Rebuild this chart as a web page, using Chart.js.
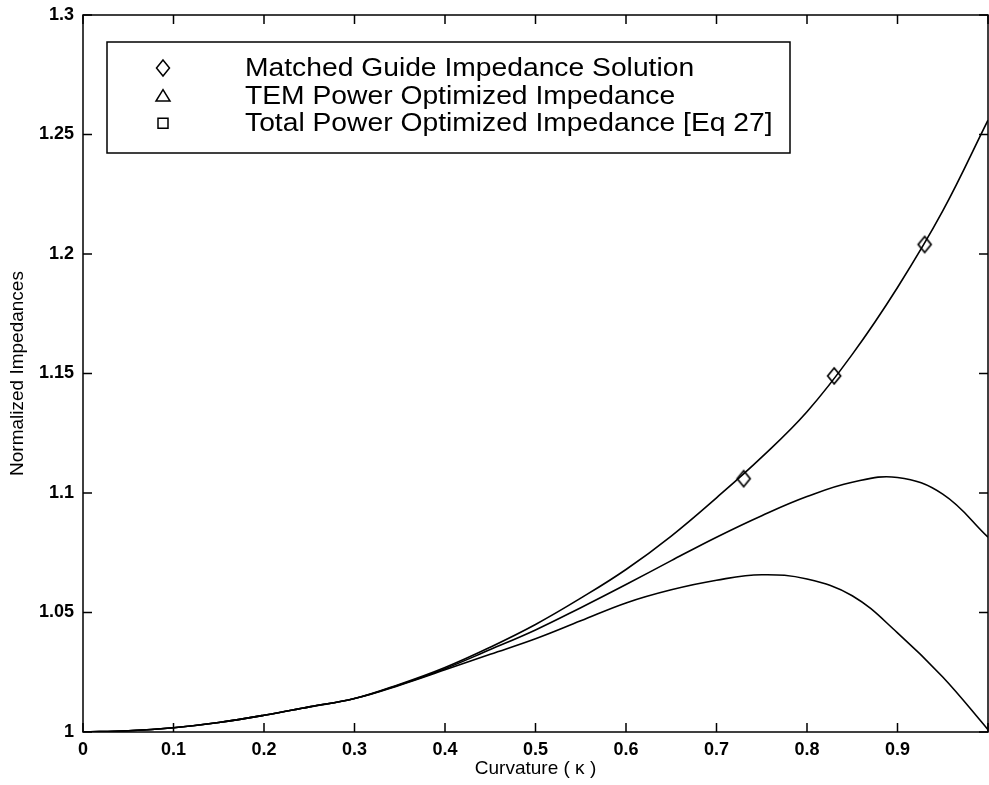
<!DOCTYPE html>
<html>
<head>
<meta charset="utf-8">
<script src="https://cdn.jsdelivr.net/npm/chart.js@4.4.1/dist/chart.umd.min.js"></script>
<style>
  html, body { margin: 0; padding: 0; background: #fff; }
  #wrap { width: 989px; height: 785px; position: relative; }
</style>
</head>
<body>
<div id="wrap"><canvas id="chart"></canvas></div>
<script>
// Curvature samples and the three normalized impedance curves.
const KAPPA = [0, 0.05, 0.1, 0.15, 0.2, 0.25, 0.3, 0.35, 0.4, 0.45, 0.5, 0.55, 0.6, 0.65, 0.7, 0.75, 0.8, 0.85, 0.9, 0.95, 1.0];
const MATCHED = [1.0, 1.0005, 1.0018, 1.0040, 1.0070, 1.0105, 1.0140, 1.0200, 1.0270, 1.0355, 1.045, 1.056, 1.068, 1.082, 1.098, 1.115, 1.134, 1.158, 1.186, 1.218, 1.256];
const TEM_OPT = [1.0, 1.0005, 1.0018, 1.0040, 1.0070, 1.0105, 1.0140, 1.0198, 1.0265, 1.0345, 1.0427, 1.052, 1.0617, 1.0717, 1.0815, 1.0905, 1.0985, 1.1045, 1.1065, 1.0995, 1.0815];
const TOTAL_OPT = [1.0, 1.0005, 1.0018, 1.0040, 1.0070, 1.0105, 1.0140, 1.0196, 1.026, 1.0325, 1.039, 1.0465, 1.054, 1.0595, 1.0635, 1.0658, 1.064, 1.057, 1.0415, 1.023, 1.001];

// Diamond markers on the matched-guide solution.
const MARKER_KAPPA = [0.73, 0.83, 0.93];
const MARKER_MATCHED = [1.106, 1.149, 1.204];

const LEGEND_LABELS = [
  'Matched Guide Impedance Solution',
  'TEM Power Optimized Impedance',
  'Total Power Optimized Impedance [Eq 27]',
];
const LEGEND_MARKERS = ['diamond', 'triangle', 'square'];

const FONT = '"Liberation Sans", Arial, Helvetica, sans-serif';
const TICK_LEN = 9;

const toPoints = (xs, ys) => xs.map((x, i) => ({ x, y: ys[i] }));

function drawMarker(ctx, kind, cx, cy) {
  ctx.beginPath();
  if (kind === 'diamond') {
    ctx.moveTo(cx, cy - 8);
    ctx.lineTo(cx + 6.5, cy);
    ctx.lineTo(cx, cy + 8);
    ctx.lineTo(cx - 6.5, cy);
    ctx.closePath();
  } else if (kind === 'triangle') {
    ctx.moveTo(cx, cy - 6);
    ctx.lineTo(cx + 7, cy + 5.5);
    ctx.lineTo(cx - 7, cy + 5.5);
    ctx.closePath();
  } else {
    ctx.rect(cx - 5, cy - 5, 10, 10);
  }
  ctx.stroke();
}

// Hollow diamond used as the point style of the marker series.
const diamondImg = document.createElement('canvas');
diamondImg.width = 18;
diamondImg.height = 22;
(() => {
  const c = diamondImg.getContext('2d');
  c.strokeStyle = '#000';
  c.lineWidth = 1.7;
  drawMarker(c, 'diamond', 9, 11);
})();

// Box frame with inward ticks on all four sides.
const framePlugin = {
  id: 'frame',
  afterDatasetsDraw(chart) {
    const { ctx, chartArea: a, scales } = chart;
    ctx.save();
    ctx.strokeStyle = '#000';
    ctx.lineWidth = 1.5;
    ctx.strokeRect(a.left, a.top, a.right - a.left, a.bottom - a.top);
    ctx.beginPath();
    scales.x.ticks.forEach((t) => {
      const px = scales.x.getPixelForValue(t.value);
      ctx.moveTo(px, a.bottom); ctx.lineTo(px, a.bottom - TICK_LEN);
      ctx.moveTo(px, a.top); ctx.lineTo(px, a.top + TICK_LEN);
    });
    scales.y.ticks.forEach((t) => {
      const py = scales.y.getPixelForValue(t.value);
      ctx.moveTo(a.left, py); ctx.lineTo(a.left + TICK_LEN, py);
      ctx.moveTo(a.right, py); ctx.lineTo(a.right - TICK_LEN, py);
    });
    ctx.stroke();
    ctx.restore();
  },
};

// MATLAB-style legend box in the upper left.
const legendPlugin = {
  id: 'boxLegend',
  afterDraw(chart) {
    const { ctx } = chart;
    ctx.save();
    ctx.fillStyle = '#fff';
    ctx.strokeStyle = '#000';
    ctx.lineWidth = 1.5;
    ctx.fillRect(107, 42, 683, 111);
    ctx.strokeRect(107, 42, 683, 111);
    LEGEND_LABELS.forEach((label, i) => {
      const base = 76 + i * 27.6;
      drawMarker(ctx, LEGEND_MARKERS[i], 163, base - 8);
      ctx.save();
      ctx.fillStyle = '#000';
      ctx.font = '25px ' + FONT;
      ctx.textBaseline = 'alphabetic';
      ctx.scale(1.13, 1);
      ctx.fillText(label, 245 / 1.13, base);
      ctx.restore();
    });
    ctx.restore();
  },
};

const lineStyle = {
  borderColor: '#000',
  borderWidth: 1.6,
  pointRadius: 0,
  fill: false,
  tension: 0.4,
};

new Chart(document.getElementById('chart'), {
  type: 'line',
  data: {
    datasets: [
      { label: LEGEND_LABELS[0], data: toPoints(KAPPA, MATCHED), ...lineStyle },
      { label: LEGEND_LABELS[1], data: toPoints(KAPPA, TEM_OPT), ...lineStyle },
      { label: LEGEND_LABELS[2], data: toPoints(KAPPA, TOTAL_OPT), ...lineStyle },
      {
        label: 'markers',
        data: toPoints(MARKER_KAPPA, MARKER_MATCHED),
        showLine: false,
        pointStyle: diamondImg,
        pointRadius: 8,
        pointHoverRadius: 8,
      },
    ],
  },
  options: {
    responsive: true,
    maintainAspectRatio: false,
    animation: false,
    events: [],
    layout: { autoPadding: false, padding: { top: 15, right: 1, left: 0, bottom: 0 } },
    plugins: { legend: { display: false }, tooltip: { enabled: false } },
    scales: {
      x: {
        type: 'linear',
        min: 0,
        max: 1,
        grid: { display: false, drawTicks: false },
        border: { display: false },
        ticks: {
          stepSize: 0.1,
          padding: 7,
          maxRotation: 0,
          color: '#000',
          font: { family: FONT, size: 18, weight: 'bold' },
          callback: (v) => (v >= 1 ? '' : String(v)),
        },
        title: {
          display: true,
          text: 'Curvature ( \u03BA )',
          color: '#000',
          font: { family: FONT, size: 19 },
          padding: { top: 0, bottom: 5 },
        },
        afterFit: (s) => {
          s.height = 53;
          s.paddingLeft = 0;
          s.paddingRight = 0;
        },
      },
      y: {
        min: 1,
        max: 1.3,
        grid: { display: false, drawTicks: false },
        border: { display: false },
        ticks: {
          stepSize: 0.05,
          padding: 9,
          color: '#000',
          font: { family: FONT, size: 18, weight: 'bold' },
          callback: (v) => String(v),
        },
        title: {
          display: true,
          text: 'Normalized Impedances',
          color: '#000',
          font: { family: FONT, size: 19 },
          padding: { top: 6, bottom: 0 },
        },
        afterFit: (s) => {
          s.width = 83;
          s.paddingTop = 0;
          s.paddingBottom = 0;
        },
      },
    },
  },
  plugins: [framePlugin, legendPlugin],
});
</script>
</body>
</html>
